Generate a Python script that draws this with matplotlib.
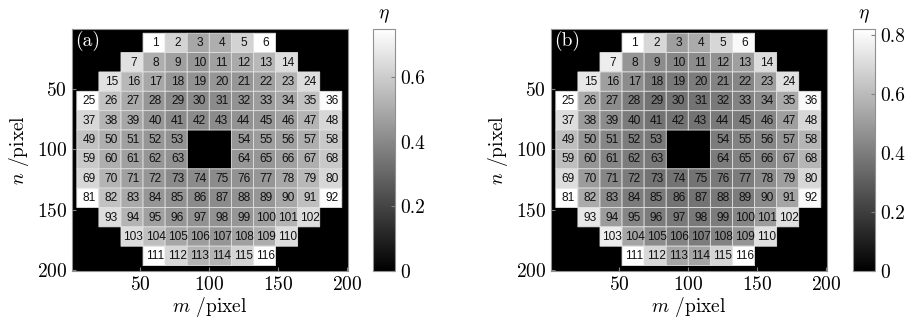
import matplotlib
matplotlib.use("Agg")
import matplotlib.pyplot as plt
import matplotlib.ticker as tkr
import numpy as np

# global options
plt.rcParams["font.family"] = "cmr10"
plt.rcParams["mathtext.fontset"] = "cm"
plt.rcParams["axes.formatter.use_mathtext"] = True

# segment layout: first / last column of each row in the 12x12 grid, central hole
row_first = [3, 2, 1, 0, 0, 0, 0, 0, 0, 1, 2, 3]
row_last = [8, 9, 10, 11, 11, 11, 11, 11, 11, 10, 9, 8]
hole_rows = [5, 6]
hole_cols = [5, 6]

# efficiency of the segments 1..116, panel (a)
eta_a = [
    0.75, 0.62, 0.49, 0.51, 0.62, 0.75,
    0.66, 0.51, 0.47, 0.44, 0.47, 0.50, 0.54, 0.65,
    0.66, 0.54, 0.49, 0.44, 0.43, 0.44, 0.44, 0.47, 0.53, 0.65,
    0.75, 0.57, 0.50, 0.44, 0.41, 0.41, 0.41, 0.43, 0.46, 0.49, 0.57, 0.74,
    0.63, 0.53, 0.49, 0.44, 0.41, 0.41, 0.41, 0.43, 0.44, 0.47, 0.53, 0.63,
    0.57, 0.51, 0.47, 0.44, 0.43, 0.44, 0.46, 0.47, 0.51, 0.59,
    0.59, 0.51, 0.47, 0.44, 0.43, 0.44, 0.44, 0.47, 0.51, 0.59,
    0.63, 0.53, 0.47, 0.44, 0.41, 0.41, 0.41, 0.43, 0.44, 0.49, 0.54, 0.63,
    0.75, 0.57, 0.50, 0.44, 0.43, 0.41, 0.41, 0.43, 0.44, 0.49, 0.56, 0.74,
    0.65, 0.53, 0.47, 0.44, 0.43, 0.43, 0.44, 0.47, 0.53, 0.65,
    0.65, 0.56, 0.49, 0.46, 0.44, 0.47, 0.51, 0.65,
    0.75, 0.63, 0.53, 0.53, 0.62, 0.75,
]

# efficiency of the segments 1..116, panel (b)
eta_b = [
    0.82, 0.69, 0.51, 0.55, 0.69, 0.80,
    0.76, 0.48, 0.45, 0.43, 0.45, 0.47, 0.51, 0.71,
    0.74, 0.51, 0.45, 0.40, 0.39, 0.40, 0.42, 0.43, 0.51, 0.72,
    0.82, 0.55, 0.45, 0.40, 0.37, 0.37, 0.37, 0.39, 0.42, 0.45, 0.55, 0.80,
    0.71, 0.50, 0.45, 0.40, 0.37, 0.37, 0.37, 0.39, 0.40, 0.43, 0.51, 0.69,
    0.61, 0.48, 0.43, 0.40, 0.39, 0.40, 0.42, 0.43, 0.48, 0.58,
    0.61, 0.48, 0.43, 0.40, 0.39, 0.40, 0.42, 0.43, 0.48, 0.58,
    0.71, 0.50, 0.43, 0.40, 0.37, 0.37, 0.37, 0.39, 0.40, 0.45, 0.51, 0.69,
    0.82, 0.55, 0.45, 0.40, 0.39, 0.37, 0.37, 0.39, 0.40, 0.45, 0.53, 0.80,
    0.74, 0.50, 0.43, 0.40, 0.39, 0.39, 0.40, 0.43, 0.50, 0.72,
    0.76, 0.53, 0.45, 0.42, 0.40, 0.42, 0.48, 0.72,
    0.82, 0.69, 0.53, 0.53, 0.68, 0.82,
]

panel_labels = ["(a)", "(b)"]
eta_max = [0.75, 0.82]
cbar_ticks = [[0, 0.2, 0.4, 0.6], [0, 0.2, 0.4, 0.6, 0.8]]
axis_ticks = [50, 100, 150, 200]

# pixel edges of the segment grid
edges = 4 + 16 * np.arange(13)


def build_grid(eta):
    """
    Place the segment values in a masked 12x12 grid.
    """

    grid = np.ma.masked_all((12, 12))
    cells = []
    k = 0
    for r in range(12):
        for c in range(row_first[r], row_last[r] + 1):
            if r in hole_rows and c in hole_cols:
                continue
            grid[r, c] = eta[k]
            cells.append((r, c, k + 1))
            k += 1
    return grid, cells


def draw_panel(fig, pos_ax, pos_cb, eta, vmax, label, ticks):
    """
    Draw one segment map with its colorbar.
    """

    ax = fig.add_axes(pos_ax)
    cax = fig.add_axes(pos_cb)

    ax.set_facecolor("black")
    grid, cells = build_grid(eta)
    pc = ax.pcolor(edges, edges, grid, cmap="gray", vmin=0, vmax=vmax,
                   edgecolors="#e2e2e2", linewidth=0.6)

    # segment numbers
    for r, c, k in cells:
        xc = 0.5 * (edges[c] + edges[c + 1]) + 1.0
        yc = 0.5 * (edges[r] + edges[r + 1]) + 0.3
        ax.text(xc, yc, str(k), ha="center", va="center", fontsize=8.6,
                family="Liberation Sans", color="#111111")

    ax.text(3, 10, label, color="white", fontsize=14, ha="left", va="center")

    ax.set_xlim(0.5, 200.5)
    ax.set_ylim(200.5, 0.5)
    ax.set_xticks(axis_ticks)
    ax.set_yticks(axis_ticks)
    ax.tick_params(direction="in", length=3, labelsize=14, color="#808080")
    ax.set_xlabel(r"$m$ /pixel", fontsize=14, labelpad=1)
    ax.set_ylabel(r"$n$ /pixel", fontsize=14, labelpad=4)
    for sp in ax.spines.values():
        sp.set_color("#909090")
        sp.set_linewidth(0.8)

    # colorbar
    cb = fig.colorbar(pc, cax=cax)
    cb.set_ticks(ticks)
    cb.ax.yaxis.set_major_formatter(tkr.FuncFormatter(lambda v, p: "{:g}".format(v)))
    cb.ax.tick_params(direction="in", length=3, labelsize=14, color="#808080")
    cb.outline.set_edgecolor("#909090")
    cb.outline.set_linewidth(0.8)
    cax.set_title(r"$\eta$", fontsize=14, pad=8)

    return ax, cax


fig = plt.figure(figsize=(9.07, 3.27), dpi=100)

bottom = 56 / 327
height = 242 / 327
draw_panel(fig, [72 / 907, bottom, 276 / 907, height], [373 / 907, bottom, 22 / 907, height],
           eta_a, eta_max[0], panel_labels[0], cbar_ticks[0])
draw_panel(fig, [551 / 907, bottom, 276 / 907, height], [853 / 907, bottom, 22 / 907, height],
           eta_b, eta_max[1], panel_labels[1], cbar_ticks[1])

fig.savefig("out.png", dpi=100)
